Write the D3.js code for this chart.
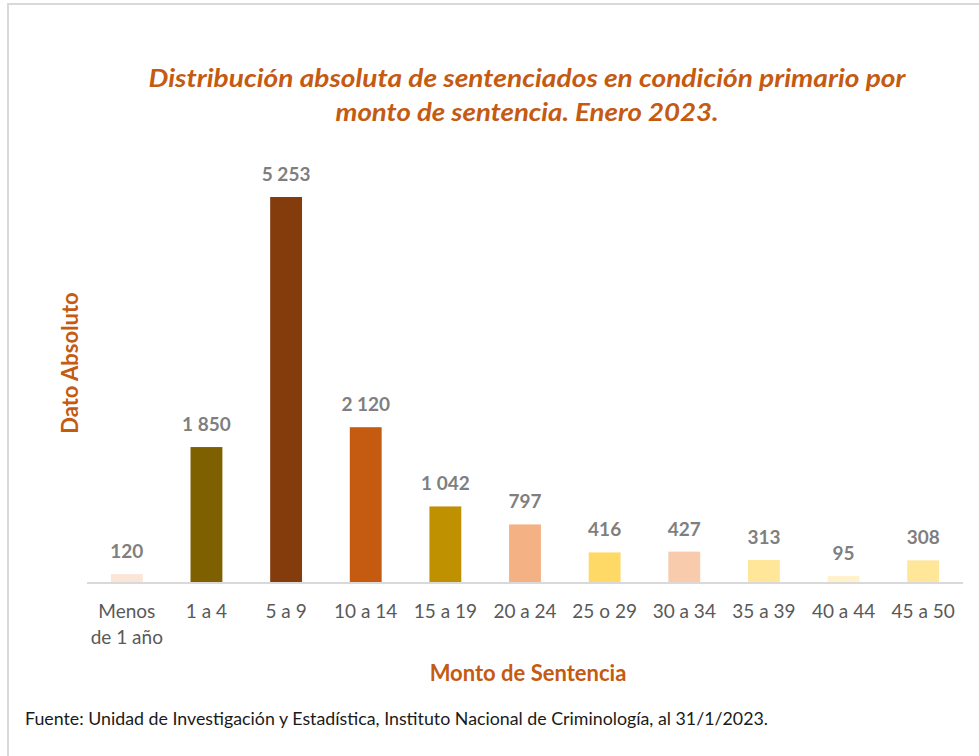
<!DOCTYPE html>
<html>
<head>
<meta charset="utf-8">
<script src="https://cdn.jsdelivr.net/npm/d3@7"></script>
<style>
  body { margin: 0; background: #fff; }
  svg { display: block; }
</style>
</head>
<body>
<script>
// data
var categories = ["Menos de 1 año", "1 a 4", "5 a 9", "10 a 14", "15 a 19", "20 a 24", "25 o 29", "30 a 34", "35 a 39", "40 a 44", "45 a 50"];
var values = [120, 1850, 5253, 2120, 1042, 797, 416, 427, 313, 95, 308];
var barColors = ["#FBE5D6", "#7F6000", "#843C0C", "#C55A11", "#BF9000", "#F4B183", "#FFD966", "#F8CBAD", "#FFE699", "#FFF2CC", "#FFE699"];

var width = 979, height = 756;
var orange = "#C55A11";
var font = "Lato, 'Noto Sans', sans-serif";

var svg = d3.select("body").append("svg")
    .attr("width", width)
    .attr("height", height);

// outer frame of the chart area (runs off the right and bottom)
svg.append("rect")
    .attr("x", 8).attr("y", 4)
    .attr("width", 1000).attr("height", 800)
    .attr("fill", "#fff")
    .attr("stroke", "#D9D9D9")
    .attr("stroke-width", 2);

// title
var title = svg.append("text")
    .attr("text-anchor", "middle")
    .attr("fill", orange)
    .attr("font-family", font)
    .attr("font-style", "italic")
    .attr("font-weight", "bold")
    .attr("font-size", 25);
title.append("tspan").attr("x", 527).attr("y", 87)
    .attr("textLength", 757).attr("lengthAdjust", "spacingAndGlyphs")
    .text("Distribución absoluta de sentenciados en condición primario por");
title.append("tspan").attr("x", 527).attr("y", 121)
    .attr("textLength", 383).attr("lengthAdjust", "spacingAndGlyphs")
    .text("monto de sentencia. Enero 2023.");

var margin = {left: 87, right: 16, top: 197, bottom: 173};
var plotBottom = height - margin.bottom; // 583

var x = d3.scaleBand()
    .domain(categories)
    .range([margin.left, width - margin.right])
    .paddingInner(0.6)
    .paddingOuter(0.3);

var y = d3.scaleLinear()
    .domain([0, 5253])
    .range([plotBottom, margin.top]);

var fmt = function(v) { return d3.format(",")(v).replace(/,/g, " "); };

svg.selectAll(".bar")
    .data(values)
    .enter().append("rect")
    .attr("class", "bar")
    .attr("x", function(d, i) { return x(categories[i]); })
    .attr("y", function(d) { return y(d); })
    .attr("width", x.bandwidth())
    .attr("height", function(d) { return plotBottom - y(d); })
    .attr("fill", function(d, i) { return barColors[i]; });

svg.selectAll(".val")
    .data(values)
    .enter().append("text")
    .attr("class", "val")
    .attr("x", function(d, i) { return x(categories[i]) + x.bandwidth() / 2; })
    .attr("y", function(d) { return y(d) - 16; })
    .attr("text-anchor", "middle")
    .attr("fill", "#7F7F7F")
    .attr("font-family", font)
    .attr("font-weight", "bold")
    .attr("font-size", 19)
    .text(fmt);

// axis
var xAxis = d3.axisBottom(x).tickSize(0).tickPadding(0);
var gx = svg.append("g")
    .attr("transform", "translate(0," + plotBottom + ")")
    .call(xAxis);
gx.select(".domain")
    .attr("d", "M" + margin.left + ",0H" + (width - margin.right))
    .attr("stroke", "#D9D9D9")
    .attr("stroke-width", 2);
gx.selectAll(".tick text")
    .attr("fill", "#595959")
    .attr("font-family", font)
    .attr("font-size", 19)
    .attr("y", 0)
    .attr("dy", null)
    .each(function(d) {
      var t = d3.select(this);
      var parts = d === "Menos de 1 año" ? ["Menos", "de 1 año"] : [d];
      t.text(null);
      parts.forEach(function(p, k) {
        t.append("tspan").attr("x", 0).attr("y", 35 + k * 26).text(p);
      });
    });

// axis titles
svg.append("text")
    .attr("transform", "translate(78,363) rotate(-90)")
    .attr("text-anchor", "middle")
    .attr("fill", orange)
    .attr("font-family", font)
    .attr("font-weight", "bold")
    .attr("font-size", 22)
    .text("Dato Absoluto");

svg.append("text")
    .attr("x", 528).attr("y", 681)
    .attr("text-anchor", "middle")
    .attr("fill", orange)
    .attr("font-family", font)
    .attr("font-weight", "bold")
    .attr("font-size", 22)
    .text("Monto de Sentencia");

// source note
svg.append("text")
    .attr("x", 25).attr("y", 725)
    .attr("fill", "#1a1a1a")
    .attr("font-family", font)
    .attr("font-size", 17)
    .attr("textLength", 743).attr("lengthAdjust", "spacingAndGlyphs")
    .text("Fuente: Unidad de Investigación y Estadística, Instituto Nacional de Criminología,  al 31/1/2023.");
</script>
</body>
</html>
